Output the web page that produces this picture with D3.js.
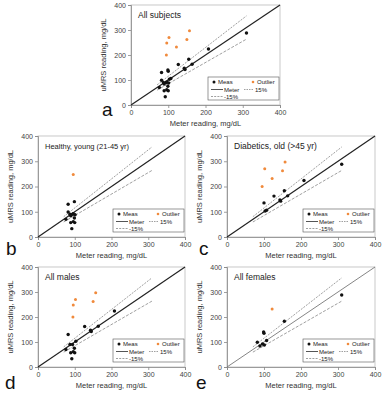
<!DOCTYPE html>
<html>
<head>
<meta charset="utf-8">
<script src="https://cdn.jsdelivr.net/npm/d3@7"></script>
<style>
  body { margin: 0; background: white; }
  svg { display: block; font-family: "Liberation Sans", Arial, sans-serif; }
</style>
</head>
<body>
<script>
  // meter reading, uMRS reading (mg/dL)
  const healthyMale = [[82,130],[76,70],[87,90],[94,90],[89,57],[96,61],[99,75],[92,33],[100,57]]
  const healthyFemale = [[82,99],[89,84],[96,92],[101,88],[99,140]]
  const healthyMaleOut = [[96,248]]
  const diabMale = [[127,162],[143,147],[145,142],[164,163],[208,224],[103,103]]
  const diabFemale = [[100,135],[107,106],[155,183],[310,288]]
  const diabMaleOut = [[95,200],[102,270],[150,262],[157,297]]
  const diabFemaleOut = [[122,232]]
  const ticks = [0, 100, 200, 300, 400]
  const bandRange = [70, 310]

  const panels = [
    { id: 'a', title: 'All subjects', meas: [...healthyMale, ...healthyFemale, ...diabMale, ...diabFemale],
      out: [...healthyMaleOut, ...diabMaleOut, ...diabFemaleOut], box: [131, 5, 149, 100], lx: 102, ly: 116, tsize: 8.5 },
    { id: 'b', title: 'Healthy, young (21-45 yr)', meas: [...healthyMale, ...healthyFemale],
      out: healthyMaleOut, box: [38, 136, 147, 101], lx: 6, ly: 255, tsize: 7.5 },
    { id: 'c', title: 'Diabetics, old (>45 yr)', meas: [...diabMale, ...diabFemale],
      out: [...diabMaleOut, ...diabFemaleOut], box: [227, 136, 148, 101], lx: 199, ly: 255, tsize: 8.5 },
    { id: 'd', title: 'All males', meas: [...healthyMale, ...diabMale],
      out: [...healthyMaleOut, ...diabMaleOut], box: [38, 267, 147, 100], lx: 5, ly: 389, tsize: 8.5 },
    { id: 'e', title: 'All females', meas: [...healthyFemale, ...diabFemale],
      out: diabFemaleOut, box: [227, 267, 148, 100], lx: 196, ly: 389, tsize: 8.5, grayDiag: true }
  ]

  const svg = d3.select('body').append('svg').attr('width', 383).attr('height', 400)

  panels.forEach(pn => {
    const [left, top, w, h] = pn.box
    const x = d3.scaleLinear().domain([0, 400]).range([left, left + w])
    const y = d3.scaleLinear().domain([0, 400]).range([top + h, top])
    const g = svg.append('g')

    g.append('rect').attr('x', left).attr('y', top).attr('width', w).attr('height', h)
      .attr('fill', 'none').attr('stroke', '#bbb').attr('stroke-width', 0.8)

    const ya = g.append('g').attr('transform', `translate(${left},0)`)
      .call(d3.axisLeft(y).tickValues(ticks).tickSize(3).tickPadding(2))
    const xa = g.append('g').attr('transform', `translate(0,${top + h})`)
      .call(d3.axisBottom(x).tickValues(ticks).tickSize(3).tickPadding(2))
    ;[ya, xa].forEach(a => {
      a.selectAll('path,line').attr('stroke', '#888').attr('stroke-width', 0.8)
      a.selectAll('text').attr('font-size', 7).attr('fill', '#444').attr('font-family', 'Liberation Sans')
    })

    // y = x line
    g.append('line').attr('x1', x(0)).attr('y1', y(0)).attr('x2', x(400)).attr('y2', y(400))
      .attr('stroke', pn.grayDiag ? '#777' : '#222').attr('stroke-width', pn.grayDiag ? 0.9 : 1.2)
    // +-15% lines
    g.append('line').attr('x1', x(bandRange[0])).attr('y1', y(bandRange[0] * 1.15))
      .attr('x2', x(bandRange[1])).attr('y2', y(bandRange[1] * 1.15))
      .attr('stroke', '#888').attr('stroke-width', 0.8).attr('stroke-dasharray', '2,1.2')
    g.append('line').attr('x1', x(bandRange[0])).attr('y1', y(bandRange[0] * 0.85))
      .attr('x2', x(bandRange[1])).attr('y2', y(bandRange[1] * 0.85))
      .attr('stroke', '#888').attr('stroke-width', 0.8).attr('stroke-dasharray', '3,1.5')

    g.selectAll('.meas').data(pn.meas).join('circle')
      .attr('cx', d => x(d[0])).attr('cy', d => y(d[1])).attr('r', 1.7).attr('fill', '#111')
    g.selectAll('.out').data(pn.out).join('circle')
      .attr('cx', d => x(d[0])).attr('cy', d => y(d[1])).attr('r', 1.5).attr('fill', '#f08a3c')

    g.append('text').attr('x', left + 7).attr('y', top + 13).attr('font-size', pn.tsize)
      .attr('fill', '#222').text(pn.title)

    // legend
    const lg = g.append('g').attr('transform', `translate(${left + w - 72},${top + h - 28})`)
      .attr('font-size', 6).attr('fill', '#222')
    lg.append('rect').attr('width', 71).attr('height', 23).attr('fill', 'white')
      .attr('stroke', '#555').attr('stroke-width', 0.6)
    lg.append('circle').attr('cx', 6).attr('cy', 5).attr('r', 1.5).attr('fill', '#111')
    lg.append('text').attr('x', 10).attr('y', 7.3).text('Meas')
    lg.append('circle').attr('cx', 45).attr('cy', 5).attr('r', 1.3).attr('fill', '#f08a3c')
    lg.append('text').attr('x', 49).attr('y', 7.3).text('Outlier')
    lg.append('line').attr('x1', 3).attr('x2', 15).attr('y1', 12.5).attr('y2', 12.5)
      .attr('stroke', '#555').attr('stroke-width', 1)
    lg.append('text').attr('x', 16).attr('y', 14.8).text('Meter')
    lg.append('line').attr('x1', 36).attr('x2', 45).attr('y1', 12.5).attr('y2', 12.5)
      .attr('stroke', '#777').attr('stroke-width', 0.7).attr('stroke-dasharray', '1.5,1')
    lg.append('text').attr('x', 47).attr('y', 14.8).text('15%')
    lg.append('line').attr('x1', 3).attr('x2', 15).attr('y1', 19.5).attr('y2', 19.5)
      .attr('stroke', '#777').attr('stroke-width', 0.7).attr('stroke-dasharray', '2,1.2')
    lg.append('text').attr('x', 16).attr('y', 21.8).text('-15%')

    // axis titles
    g.append('text').attr('x', left + w / 2).attr('y', top + h + 21).attr('text-anchor', 'middle')
      .attr('font-size', 7.5).attr('fill', '#333').text('Meter reading, mg/dL')
    g.append('text').attr('transform', `translate(${left - 25},${top + h / 2}) rotate(-90)`)
      .attr('text-anchor', 'middle').attr('font-size', 7.5).attr('fill', '#333').text('uMRS reading, mg/dL')

    g.append('text').attr('x', pn.lx).attr('y', pn.ly).attr('font-size', 19).attr('fill', '#111').text(pn.id)
  })
</script>
</body>
</html>
